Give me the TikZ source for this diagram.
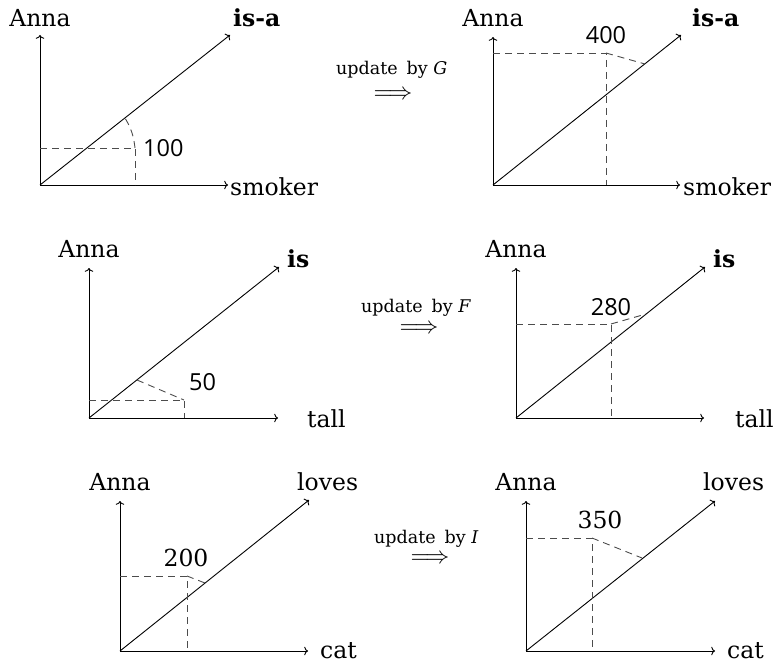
\documentclass[tikz,border=0pt]{standalone}
\usepackage{fontspec}
\setmainfont{DejaVu Serif}
\newfontfamily\numfont{Open Sans}
\usetikzlibrary{arrows.meta}
\begin{document}
\begin{tikzpicture}[x=1pt,y=-1pt,
  axis/.style={line width=0.9pt,-{To[length=3.8pt,width=8.5pt]}},
  guide/.style={line width=0.9pt,black!70,dash pattern=on 7pt off 5pt},
  lbl/.style={inner sep=0pt,font=\fontsize{23.5}{28}\selectfont},
  num/.style={inner sep=0pt,font=\fontsize{23.5}{28}\selectfont\numfont},
  upd/.style={inner sep=0pt,font=\fontsize{17.5}{20}\selectfont},
  dbl/.style={inner sep=0pt}]
\useasboundingbox (0,0) rectangle (779,663);

% ---------- panel 1 ----------
\coordinate (o1) at (40,185);
\coordinate (y1) at (40,35);
\coordinate (x1) at (228,185);
\coordinate (d1) at (230,35);
\coordinate (c1) at (135,148);
\coordinate (h1) at (40,148);
\coordinate (v1) at (135,185);
\coordinate (a1) at (125,118);
\draw[axis] (o1) -- (y1);
\draw[axis] (o1) -- (x1);
\draw[axis] (o1) -- (d1);
\draw[guide] (h1) -- (c1) -- (v1);
\draw[guide] (c1) to[bend right=12] (a1);
\node[lbl,anchor=base] (anna1) at (40,27) {Anna};
\node[lbl,anchor=base west] (rel1) at (233,27) {\textbf{is-a}};
\node[lbl,anchor=base west] (ax1) at (230,196) {smoker};
\node[num,anchor=base west] (n1) at (143,157) {100};

% ---------- panel 2 ----------
\coordinate (o2) at (493,185);
\coordinate (y2) at (493,37);
\coordinate (x2) at (680,185);
\coordinate (d2) at (681,35);
\coordinate (c2) at (606,53);
\coordinate (h2) at (493,53);
\coordinate (v2) at (606,185);
\coordinate (a2) at (645,64);
\draw[axis] (o2) -- (y2);
\draw[axis] (o2) -- (x2);
\draw[axis] (o2) -- (d2);
\draw[guide] (h2) -- (c2) -- (v2);
\draw[guide] (c2) -- (a2);
\node[lbl,anchor=base] (anna2) at (493,27) {Anna};
\node[lbl,anchor=base west] (rel2) at (692,27) {\textbf{is-a}};
\node[lbl,anchor=base west] (ax2) at (683,196) {smoker};
\node[num,anchor=base] (n2) at (606,44) {400};
\node[upd,anchor=base west] (u1) at (336,75) {update\hspace{9pt}by \textit{G}};
\node[dbl] (arr1) at (393,95) {\scalebox{2.4}{$\Longrightarrow$}};

% ---------- panel 3 ----------
\coordinate (o3) at (89,418);
\coordinate (y3) at (89,268);
\coordinate (x3) at (278,418);
\coordinate (d3) at (279,267);
\coordinate (c3) at (184,400);
\coordinate (h3) at (89,400);
\coordinate (v3) at (184,418);
\coordinate (a3) at (137,380);
\draw[axis] (o3) -- (y3);
\draw[axis] (o3) -- (x3);
\draw[axis] (o3) -- (d3);
\draw[guide] (h3) -- (c3) -- (v3);
\draw[guide] (a3) -- (c3);
\node[lbl,anchor=base] (anna3) at (89,257) {Anna};
\node[lbl,anchor=base west] (rel3) at (287,267) {\textbf{is}};
\node[lbl,anchor=base west] (ax3) at (307,427) {tall};
\node[num,anchor=base west] (n3) at (189,390) {50};

% ---------- panel 4 ----------
\coordinate (o4) at (516,418);
\coordinate (y4) at (516,268);
\coordinate (x4) at (704,418);
\coordinate (d4) at (705,267);
\coordinate (c4) at (611,324);
\coordinate (h4) at (516,324);
\coordinate (v4) at (611,418);
\coordinate (a4) at (646,314);
\draw[axis] (o4) -- (y4);
\draw[axis] (o4) -- (x4);
\draw[axis] (o4) -- (d4);
\draw[guide] (h4) -- (c4) -- (v4);
\draw[guide] (c4) -- (a4);
\node[lbl,anchor=base] (anna4) at (516,257) {Anna};
\node[lbl,anchor=base west] (rel4) at (713,267) {\textbf{is}};
\node[lbl,anchor=base west] (ax4) at (735,427) {tall};
\node[num,anchor=base] (n4) at (611,315) {280};
\node[upd,anchor=base west] (u2) at (361,312) {update\hspace{9pt}by \textit{F}};
\node[dbl] (arr2) at (419,329) {\scalebox{2.4}{$\Longrightarrow$}};

% ---------- panel 5 ----------
\coordinate (o5) at (120,651);
\coordinate (y5) at (120,501);
\coordinate (x5) at (308,651);
\coordinate (d5) at (309,500);
\coordinate (c5) at (187,576);
\coordinate (h5) at (120,576);
\coordinate (v5) at (187,651);
\coordinate (a5) at (205,583);
\draw[axis] (o5) -- (y5);
\draw[axis] (o5) -- (x5);
\draw[axis] (o5) -- (d5);
\draw[guide] (h5) -- (c5) -- (v5);
\draw[guide] (c5) -- (a5);
\node[lbl,anchor=base] (anna5) at (120,490) {Anna};
\node[lbl,anchor=base west] (rel5) at (297,490) {loves};
\node[lbl,anchor=base west] (ax5) at (320,658) {cat};
\node[lbl,anchor=base] (n5) at (186,566) {200};

% ---------- panel 6 ----------
\coordinate (o6) at (526,651);
\coordinate (y6) at (526,501);
\coordinate (x6) at (715,651);
\coordinate (d6) at (715,501);
\coordinate (c6) at (592,538);
\coordinate (h6) at (526,538);
\coordinate (v6) at (592,651);
\coordinate (a6) at (642,558);
\draw[axis] (o6) -- (y6);
\draw[axis] (o6) -- (x6);
\draw[axis] (o6) -- (d6);
\draw[guide] (h6) -- (c6) -- (v6);
\draw[guide] (c6) -- (a6);
\node[lbl,anchor=base] (anna6) at (526,490) {Anna};
\node[lbl,anchor=base west] (rel6) at (703,490) {loves};
\node[lbl,anchor=base west] (ax6) at (727,658) {cat};
\node[lbl,anchor=base] (n6) at (600,528) {350};
\node[upd,anchor=base west] (u3) at (374,543) {update\hspace{9pt}by \textit{I}};
\node[dbl] (arr3) at (430,559) {\scalebox{2.4}{$\Longrightarrow$}};
\end{tikzpicture}
\end{document}
